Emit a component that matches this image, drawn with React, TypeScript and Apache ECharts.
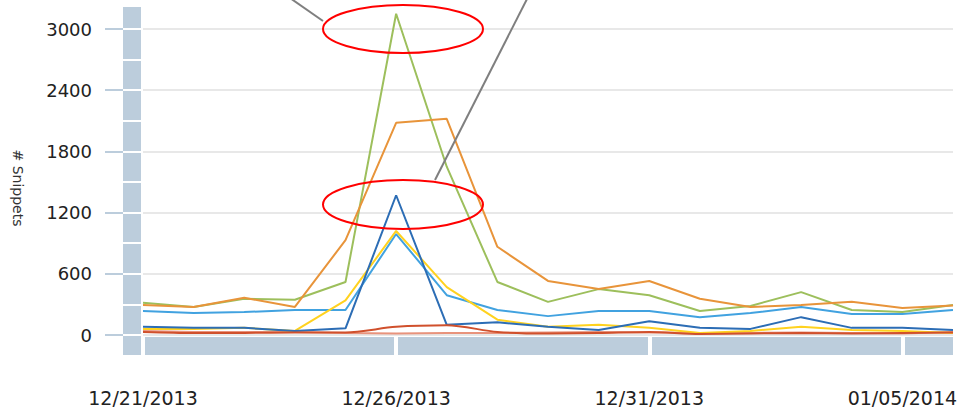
import React, { useEffect, useRef } from "react";
import * as echarts from "echarts";

const dates = [
  "12/21/2013", "12/22/2013", "12/23/2013", "12/24/2013", "12/25/2013",
  "12/26/2013", "12/27/2013", "12/28/2013", "12/29/2013", "12/30/2013",
  "12/31/2013", "01/01/2014", "01/02/2014", "01/03/2014", "01/04/2014",
  "01/05/2014", "01/06/2014",
];

const greenSeries = [315, 275, 355, 345, 520, 3150, 1650, 520, 325, 450, 390, 235, 285, 420, 245, 225, 295];
const orangeSeries = [295, 275, 365, 275, 930, 2080, 2120, 865, 530, 450, 530, 355, 275, 295, 325, 265, 290];
const lightBlueSeries = [235, 215, 225, 245, 245, 990, 390, 245, 185, 235, 235, 175, 215, 275, 205, 205, 245];
const darkBlueSeries = [80, 70, 70, 40, 65, 1370, 100, 125, 80, 50, 135, 70, 60, 175, 70, 70, 50];
const yellowSeries = [60, 60, 70, 40, 340, 1020, 470, 150, 80, 100, 70, 20, 40, 80, 50, 40, 20];
const salmonSeries = [40, 30, 30, 30, 20, 15, 20, 20, 25, 30, 25, 20, 20, 25, 20, 15, 30];
const redSeries = [30, 20, 20, 25, 25, 80, 95, 30, 15, 20, 30, 10, 15, 20, 15, 20, 25];

const yTickValues = [0, 600, 1200, 1800, 2400, 3000];

const BAR = "#BCCDDC";
const FONT = "DejaVu Sans";

export default function App() {
  const ref = useRef<HTMLDivElement>(null);

  useEffect(() => {
    document.body.style.margin = "0";
    const chart = echarts.init(ref.current!, undefined, { renderer: "svg" });
    const line = (name: string, data: number[], color: string, extra: any = {}) => ({
      name,
      type: "line",
      xAxisIndex: 0,
      yAxisIndex: 0,
      data,
      symbol: "none",
      lineStyle: { color, width: 2 },
      itemStyle: { color },
      z: 2,
      ...extra,
    });
    chart.setOption({
      animation: false,
      backgroundColor: "#ffffff",
      grid: [
        { left: 143, right: 12, top: 8.6, bottom: 78, outerBoundsMode: "none", containLabel: false },
        { left: 143, right: 12, top: 29, bottom: 78, outerBoundsMode: "none", containLabel: false },
        { left: 141, right: 12, top: 7, bottom: 58, outerBoundsMode: "none", containLabel: false },
      ],
      xAxis: [
        { gridIndex: 0, position: "bottom", type: "category", data: dates, boundaryGap: false, show: false },
        {
          gridIndex: 1, position: "bottom", type: "category", data: dates, boundaryGap: false, offset: 11, z: 1,
          axisLine: { show: true, onZero: false, lineStyle: { color: BAR, width: 18, cap: "butt" } },
          axisTick: { show: false }, axisLabel: { show: false }, splitLine: { show: false },
        },
        {
          gridIndex: 1, position: "bottom", type: "category", data: dates, boundaryGap: false, offset: 2, z: 3,
          axisLine: { show: false, onZero: false },
          axisTick: { show: true, interval: 4, length: 18, lineStyle: { color: "#ffffff", width: 4, cap: "butt" } },
          axisLabel: {
            show: true, interval: 4, margin: 51, fontFamily: FONT, fontSize: 19, color: "#222222",
          },
          splitLine: { show: false },
        },
        { gridIndex: 2, position: "bottom", type: "category", data: dates, boundaryGap: false, show: false },
      ],
      yAxis: [
        { gridIndex: 0, position: "left", type: "value", min: 0, max: 3200, show: false },
        {
          gridIndex: 1, position: "left", type: "value", min: 0, max: 3000, interval: 600, offset: 20,
          axisLine: { show: false, onZero: false },
          axisTick: { show: true, length: 18, lineStyle: { color: BAR, width: 2, cap: "butt" } },
          axisLabel: {
            margin: 31, fontFamily: FONT, fontSize: 18, color: "#222222",
            formatter: (v: number) => (yTickValues.indexOf(v) >= 0 ? String(v) : ""),
          },
          splitLine: { show: true, lineStyle: { color: "#E8E8E8", width: 2 } },
        },
        {
          gridIndex: 1, position: "left", type: "value", min: 0, max: 3000, interval: 300, offset: 2, z: 3,
          axisLine: { show: false, onZero: false },
          axisTick: { show: true, length: 18, lineStyle: { color: "#ffffff", width: 2, cap: "butt" } },
          axisLabel: { show: false },
          splitLine: { show: false },
        },
        {
          gridIndex: 2, position: "left", type: "value", min: 0, max: 1, offset: 9, z: 1,
          axisLine: { show: true, onZero: false, lineStyle: { color: BAR, width: 18, cap: "butt" } },
          axisTick: { show: false }, axisLabel: { show: false }, splitLine: { show: false },
        },
      ],
      series: [
        line("Light Blue", lightBlueSeries, "#41A2E0"),
        line("Salmon", salmonSeries, "#E8937C"),
        line("Yellow", yellowSeries, "#FFD21F"),
        line("Green", greenSeries, "#9DBF5C"),
        line("Orange", orangeSeries, "#E8943A"),
        line("Dark Blue", darkBlueSeries, "#2C6DB5"),
        line("Red", redSeries, "#D0502C", { smooth: 0.3 }),
      ],
      graphic: [
        {
          type: "text", x: 18, y: 188, rotation: -Math.PI / 2, z: 10,
          style: {
            text: "# Snippets", fontFamily: FONT, fontSize: 14, fill: "#333333",
            align: "center", verticalAlign: "middle",
          },
        },
        {
          type: "ellipse", z: 10,
          shape: { cx: 403, cy: 29, rx: 80, ry: 24 },
          style: { fill: "none", stroke: "#FF0000", lineWidth: 2 },
        },
        {
          type: "ellipse", z: 10,
          shape: { cx: 403, cy: 204.5, rx: 80, ry: 24.5 },
          style: { fill: "none", stroke: "#FF0000", lineWidth: 2 },
        },
        {
          type: "line", z: 10,
          shape: { x1: 290, y1: -2, x2: 323, y2: 21 },
          style: { stroke: "#7F7F7F", lineWidth: 2 },
        },
        {
          type: "line", z: 10,
          shape: { x1: 527, y1: -1, x2: 435, y2: 180 },
          style: { stroke: "#7F7F7F", lineWidth: 2 },
        },
      ],
    });
    return () => chart.dispose();
  }, []);

  return (
    <div
      ref={ref}
      style={{ position: "fixed", left: 0, top: 0, width: 965, height: 413 }}
    />
  );
}
